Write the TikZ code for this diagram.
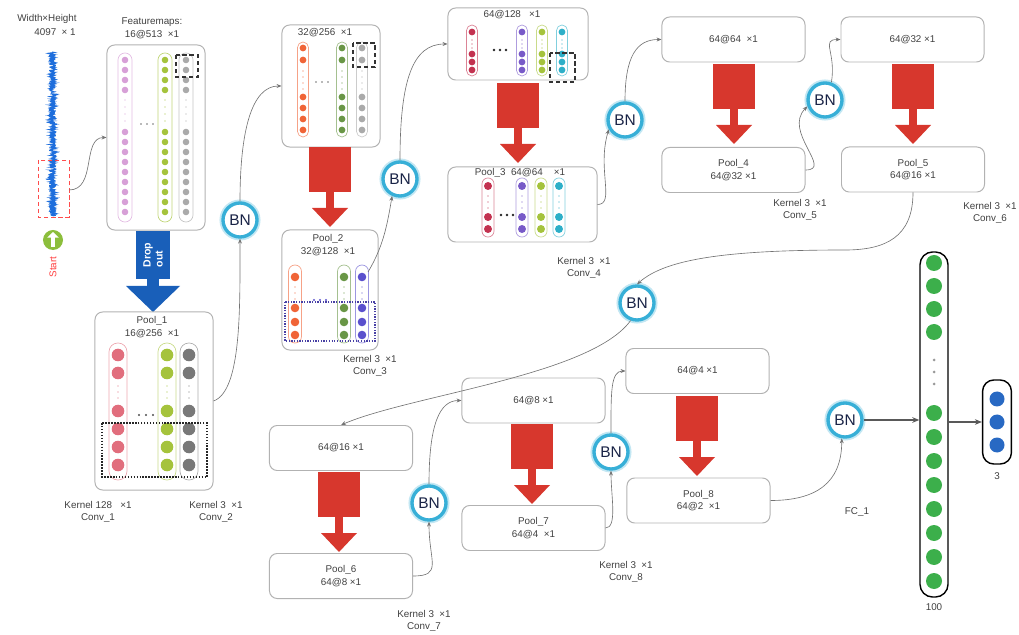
\documentclass[tikz,border=0pt]{standalone}
\usepackage{fontspec}
\setmainfont{Liberation Sans}
\usetikzlibrary{arrows.meta}

\definecolor{poolred}{RGB}{215,55,45}
\definecolor{dropblue}{RGB}{25,95,185}
\definecolor{sigblue}{RGB}{30,110,220}
\definecolor{startgreen}{RGB}{140,190,60}
\definecolor{bnring}{RGB}{55,175,215}
\definecolor{bntext}{RGB}{25,35,70}
\definecolor{fmpink}{RGB}{215,160,215}
\definecolor{fmlime}{RGB}{165,195,60}
\definecolor{fmgray}{RGB}{170,170,170}
\definecolor{ponered}{RGB}{225,110,125}
\definecolor{ponegray}{RGB}{120,120,120}
\definecolor{ctwoorange}{RGB}{240,100,55}
\definecolor{ctwogreen}{RGB}{105,150,70}
\definecolor{ptwopurple}{RGB}{90,80,205}
\definecolor{cthreered}{RGB}{195,50,80}
\definecolor{cthreepurple}{RGB}{120,90,200}
\definecolor{cthreecyan}{RGB}{45,175,200}
\definecolor{fcgreen}{RGB}{60,175,75}
\definecolor{outblue}{RGB}{40,105,195}

\begin{document}
\begin{tikzpicture}[x=0.025cm, y=-0.025cm,
    fbox/.style={draw=black!30, rounded corners=5.5pt, line width=0.7pt, inner sep=0pt},
    wbox/.style={fbox, minimum width=3.575cm, minimum height=1.125cm, align=center,
        font=\fontsize{7}{9}\selectfont, text=black!75},
    bn/.style={circle, draw=bnring, line width=2.4pt, fill=white, minimum size=0.85cm,
        inner sep=0pt, font=\fontsize{11}{11}\selectfont, text=bntext,
        preaction={draw=bnring!30, line width=5pt}},
    lbl/.style={font=\fontsize{7}{9}\selectfont, text=black!75, align=center, inner sep=0pt},
    conn/.style={draw=black!55, line width=0.45pt, -{Stealth[length=3.5pt,width=2.8pt]}},
    fcarrow/.style={draw=black!65, line width=0.8pt, -{Stealth[length=5pt,width=4pt]}},
    kol/.style={rounded corners=#1, line width=0.5pt},
  ]
    \useasboundingbox (0,0) rectangle (1019,635);

    % input signal
    \node[lbl] (wh) at (47,19) {Width×Height};
    \node[lbl] (len) at (55,32) {4097 \ × 1};
    \pgfmathsetseed{3}
    \draw[sigblue, line width=0.6pt] (52,52) \foreach \y in {52.25,52.5,...,216} { -- ({52.5+3.6*rand},\y) };
    \draw[red!70, line width=0.5pt, dash pattern=on 3pt off 2pt] (38,160) rectangle (69,217);
    \coordinate (sig) at (69,190);
    \node[circle, fill=startgreen, minimum size=0.5cm, inner sep=0pt] (start) at (53,240) {};
    \draw[white, line width=2.6pt, -{Triangle[length=4pt,width=8pt]}] (53,247) -- (53,232);
    \node[lbl, rotate=90, text=red!75] (starttxt) at (53,267) {Start};

    % featuremaps 16@513
    \node[lbl] (fmtitle) at (152,28) {Featuremaps:\\16@513 \ ×1};
    \node[fbox, minimum width=2.45cm, minimum height=4.625cm] (fm1) at (156,137.5) {};
    \foreach \x/\c in {125/fmpink, 165/fmlime, 186/fmgray} {
        \draw[\c!70, kol=4.9pt] (\x-7,53) rectangle (\x+7,222);
        \foreach \y in {60,70,80,90,132,142,...,212}
            \fill[\c] (\x,\y) circle (3.3);
        \foreach \y in {100,107,...,125}
            \fill[\c] (\x,\y) circle (0.6);
    }
    \foreach \x in {141,147,153}
        \fill[black!55] (\x,124) circle (0.9);
    \draw[black!80, line width=0.8pt, densely dashed] (176,55) rectangle (198,77);
    \draw[conn] (sig) .. controls +(28,0) and +(-25,0) .. (fm1.west);

    % dropout
    \node[fill=dropblue, minimum width=0.85cm, minimum height=1.2cm, inner sep=0pt] (drop) at (153,255) {};
    \node[rotate=90, align=left, text=white, inner sep=0pt, font=\fontsize{7.5}{8.5}\selectfont\bfseries] (droptxt) at (drop.center) {Drop\\out};
    \fill[dropblue] (147,278) rectangle (159,288);
    \fill[dropblue] (126,286) -- (180,286) -- (153,312) -- cycle;

    % pool_1
    \node[fbox, minimum width=2.95cm, minimum height=4.45cm] (pool1) at (154,401) {};
    \node[lbl] (pool1txt) at (152,327) {Pool\_1\\16@256 \ ×1};
    \foreach \x/\c in {118/ponered, 167/fmlime, 189/ponegray} {
        \draw[\c!60, kol=6.3pt] (\x-9,343) rectangle (\x+9,480);
        \foreach \y in {355,373,411,429,447,465}
            \fill[\c] (\x,\y) circle (6.3);
        \foreach \y in {386,392,398}
            \fill[\c] (\x,\y) circle (0.7);
    }
    \foreach \x in {139,146,153}
        \fill[black!70] (\x,415) circle (1.2);
    \draw[black!85, line width=1.1pt, densely dotted] (102,423) rectangle (207,477);
    \node[lbl] (k1) at (98,512) {Kernel 128 \ \ ×1\\Conv\_1};
    \node[lbl] (k2) at (216,512) {Kernel 3 \ ×1\\Conv\_2};

    % conv 32@256
    \node[fbox, minimum width=2.45cm, minimum height=3.05cm] (conv2) at (331,86) {};
    \node[lbl] (conv2txt) at (325,33) {32@256 \ ×1};
    \foreach \x/\c in {303/ctwoorange, 342/ctwogreen, 362/fmgray} {
        \draw[\c!60, kol=3.9pt] (\x-5.5,42) rectangle (\x+5.5,137);
        \foreach \y in {48,60,97,108,119,130}
            \fill[\c] (\x,\y) circle (3.4);
        \foreach \y in {71,77,...,89}
            \fill[\c] (\x,\y) circle (0.6);
    }
    \foreach \x in {316,322,328}
        \fill[black!55] (\x,82) circle (0.9);
    \draw[black!80, line width=0.8pt, densely dashed] (353,43) rectangle (375,67);

    % pool_2
    \node[fbox, minimum width=2.4cm, minimum height=3.0cm] (pool2) at (330,290) {};
    \node[lbl] (pool2txt) at (328,245) {Pool\_2\\32@128 \ ×1};
    \foreach \x/\c in {295/ctwoorange, 344/ctwogreen, 362/ptwopurple} {
        \draw[\c!60, kol=4.6pt] (\x-6.5,265) rectangle (\x+6.5,343);
        \foreach \y in {277,308,322,335}
            \fill[\c] (\x,\y) circle (4.3);
        \foreach \y in {287,293,299}
            \fill[\c] (\x,\y) circle (0.6);
    }
    \draw[ptwopurple!80!black, line width=0.9pt, densely dotted] (285,302) rectangle (375,341);
    \foreach \x in {314,320,326}
        \fill[ptwopurple] (\x,300) circle (1.1);
    \coordinate (p2c) at (368,272);
    \node[lbl] (k3) at (370,366) {Kernel 3 \ ×1\\Conv\_3};

    % conv 64@128
    \node[fbox, minimum width=3.5cm, minimum height=1.8cm] (conv3) at (518,44) {};
    \node[lbl] (conv3txt) at (512,15) {64@128 \ \ ×1};
    \foreach \x/\c in {472/cthreered, 522/cthreepurple, 542/fmlime, 562/cthreecyan} {
        \draw[\c!60, kol=3.9pt] (\x-5.5,25) rectangle (\x+5.5,76);
        \foreach \y in {32,54,62,70}
            \fill[\c] (\x,\y) circle (3.4);
        \foreach \y in {40,44,48}
            \fill[\c] (\x,\y) circle (0.6);
    }
    \foreach \x in {494,500,506}
        \fill[black!85] (\x,50) circle (1.3);
    \draw[black!80, line width=0.8pt, densely dashed] (550,53) rectangle (575,82);

    % pool_3
    \node[fbox, minimum width=3.725cm, minimum height=1.875cm] (pool3) at (522.5,204.5) {};
    \node[lbl] (pool3txt) at (520,173) {Pool\_3 \ 64@64 \ \ \ ×1};
    \foreach \x/\c in {488/cthreered, 522/cthreepurple, 541/fmlime, 559/cthreecyan} {
        \draw[\c!60, kol=4.2pt] (\x-6,178) rectangle (\x+6,237);
        \foreach \y in {186,217,229}
            \fill[\c] (\x,\y) circle (4);
        \foreach \y in {196,202,208}
            \fill[\c] (\x,\y) circle (0.6);
    }
    \foreach \x in {501,507,513}
        \fill[black!85] (\x,215) circle (1.3);
    \node[lbl] (k4) at (584,268) {Kernel 3 \ ×1\\Conv\_4};

    % later conv and pool blocks
    \node[wbox] (conv4) at (733.5,39.5) {64@64 \ ×1};
    \node[wbox] (pool4) at (733.5,170) {Pool\_4\\64@32 ×1};
    \node[wbox] (conv5) at (912.5,39.5) {64@32 ×1};
    \node[wbox] (pool5) at (913,169.5) {Pool\_5\\64@16 ×1};
    \node[wbox] (conv6) at (341,448) {64@16 ×1};
    \node[wbox] (pool6) at (341,576) {Pool\_6\\64@8 ×1};
    \node[wbox] (conv7) at (533.5,400.5) {64@8 ×1};
    \node[wbox] (pool7) at (533.5,528) {Pool\_7\\64@4 \ ×1};
    \node[wbox] (conv8) at (697.5,371) {64@4 ×1};
    \node[wbox] (pool8) at (698.5,500.5) {Pool\_8\\64@2 \ ×1};
    \node[lbl] (k5) at (800,210) {Kernel 3 \ ×1\\Conv\_5};
    \node[lbl] (k6) at (990,213) {Kernel 3 \ ×1\\Conv\_6};
    \node[lbl] (k7) at (424,621) {Kernel 3 \ ×1\\Conv\_7};
    \node[lbl] (k8) at (626,572) {Kernel 3 \ ×1\\Conv\_8};
    \node[lbl] (fc1) at (857,512) {FC\_1};

    % pooling arrows
    \foreach \x/\y in {330/147, 518/83, 734/64, 913/64, 339/472, 532/424, 697/396} {
        \fill[poolred] (\x-21,\y) rectangle (\x+21,\y+45);
        \fill[poolred] (\x-4,\y+44) rectangle (\x+4,\y+62);
        \fill[poolred] (\x-18,\y+61) -- (\x+18,\y+61) -- (\x,\y+80) -- cycle;
    }

    % batch norms
    \node[bn] (bn1) at (240,220) {BN};
    \node[bn] (bn2) at (400,179) {BN};
    \node[bn] (bn3) at (625,120) {BN};
    \node[bn] (bn4) at (825,100) {BN};
    \node[bn] (bn5) at (637,303) {BN};
    \node[bn] (bn6) at (429,503) {BN};
    \node[bn] (bn7) at (611,452) {BN};
    \node[bn] (bn8) at (845,420) {BN};
    \coordinate (c5) at (845,250);

    \draw[conn] (pool1.east) .. controls +(28,-10) and +(0,70) .. (bn1.south);
    \draw[conn] (bn1.north) .. controls +(0,-70) and +(-30,0) .. (conv2.west);
    \draw[conn] (p2c) .. controls +(15,-25) and +(-5,30) .. (bn2.-115);
    \draw[conn] (bn2.north) .. controls +(0,-80) and +(-35,0) .. (conv3.west);
    \draw[conn] (pool3.east) .. controls +(18,0) and +(-12,40) .. (bn3.-150);
    \draw[conn] (bn3.north) .. controls +(0,-45) and +(-25,0) .. (conv4.west);
    \draw[conn] (pool4.east) .. controls +(28,0) and +(-25,25) .. (bn4.-160);
    \draw[conn] (bn4.70) .. controls +(5,-30) and +(-20,0) .. (conv5.west);
    \draw[conn] (pool5.south) .. controls +(0,45) and +(40,0) .. (c5)
        .. controls +(-120,0) and +(28,-25) .. (bn5.north);
    \draw[conn] (bn5.-110) .. controls +(-40,55) and +(70,-30) .. (conv6.north);
    \draw[conn] (pool6.east) .. controls +(30,0) and +(0,40) .. (bn6.south);
    \draw[conn] (bn6.north) .. controls +(0,-60) and +(-22,0) .. (conv7.west);
    \draw[conn] (pool7.east) .. controls +(12,0) and +(0,25) .. (bn7.south);
    \draw[conn] (bn7.north) .. controls +(0,-40) and +(-15,0) .. (conv8.west);
    \draw[conn] (pool8.east) .. controls +(45,0) and +(0,45) .. (bn8.-100);

    % fully connected and output
    \node[draw, line width=1pt, rounded corners=9pt, minimum width=0.7cm, minimum height=8.625cm] (fc) at (934,424.5) {};
    \foreach \y in {263,286,309,332,413,437,...,581}
        \fill[fcgreen] (934,\y) circle (8);
    \foreach \y in {360,372,384}
        \fill[black!40] (934,\y) circle (1.5);
    \node[lbl] (fcn) at (934,607) {100};
    \node[draw, line width=1pt, rounded corners=8pt, minimum width=0.72cm, minimum height=2.1cm] (outc) at (997,422) {};
    \foreach \y in {399,422,445}
        \fill[outblue] (997,\y) circle (7.5);
    \node[lbl] (outn) at (997,476) {3};
    \draw[fcarrow] (bn8.east) -- (bn8.east -| fc.west);
    \draw[fcarrow] (fc.east |- outc.west) -- (outc.west);
\end{tikzpicture}
\end{document}
